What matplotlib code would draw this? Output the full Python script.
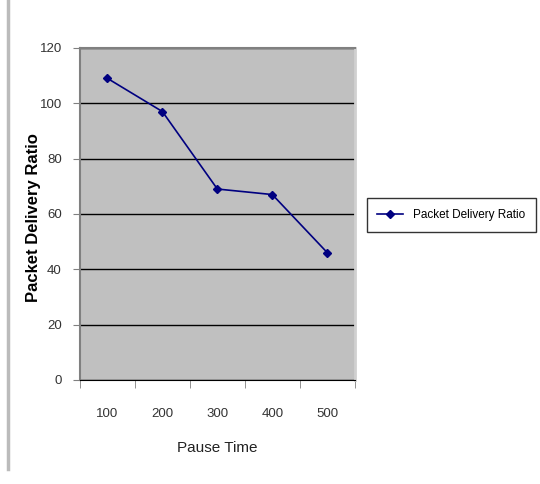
import matplotlib.pyplot as plt
from matplotlib.lines import Line2D

# data
categories = ["100", "200", "300", "400", "500"]
pdr = [109, 97, 69, 67, 46]
y_ticks = [0, 20, 40, 60, 80, 100, 120]

plt.rcParams['font.family'] = ['Liberation Sans Narrow', 'Liberation Sans', 'DejaVu Sans']

fig = plt.figure(figsize=(5.4, 4.84), dpi=100)
ax = fig.add_axes([0.148, 0.215, 0.509, 0.686])
ax.set_facecolor("#C0C0C0")

x = list(range(len(categories)))
ax.plot(x, pdr, color="#000080", lw=1.2, marker="D", ms=4,
        label="Packet Delivery Ratio")

ax.set_xlim(-0.5, len(categories) - 0.5)
ax.set_ylim(0, 120)
ax.set_yticks(y_ticks)
ax.yaxis.grid(True, color="black", lw=1)
ax.set_axisbelow(True)

# category labels centered, ticks at boundaries
ax.set_xticks(x)
ax.set_xticklabels(categories, fontsize=9.5, color="#333333")
ax.set_xticks([i - 0.5 for i in range(len(categories) + 1)], minor=True)
ax.tick_params(axis="x", which="major", length=0, pad=20)
ax.tick_params(axis="x", which="minor", length=6, color="#808080", direction="out")
ax.tick_params(axis="y", length=5, color="#808080", labelsize=9.5, labelcolor="#333333", pad=8)

for s in ["top", "left"]:
    ax.spines[s].set_color("#808080")
    ax.spines[s].set_linewidth(1.5)
ax.spines["right"].set_color("#D0D0D0")
ax.spines["right"].set_linewidth(2)
ax.spines["bottom"].set_color("black")

ax.set_xlabel("Pause Time", fontsize=11, color="#222222", labelpad=15)
ax.set_ylabel("Packet Delivery Ratio", fontsize=12, fontweight="bold",
              family=["Liberation Sans", "DejaVu Sans"])
ax.yaxis.set_label_coords(-0.14, 0.49)

h = Line2D([], [], color="#000080", lw=1.2, marker="D", ms=4)
leg = fig.legend([h], ["Packet Delivery Ratio"], loc="center left",
                 bbox_to_anchor=(0.668, 0.556), fontsize=8.5, frameon=True,
                 fancybox=False, edgecolor="black", handlelength=2.2,
                 borderpad=0.9)
leg.get_frame().set_linewidth(1)

# page border line on the left
fig.add_artist(Line2D([0.015, 0.015], [0.03, 1.0], color="#BBBBBB", lw=2.5))

fig.savefig("out.png", dpi=100)
